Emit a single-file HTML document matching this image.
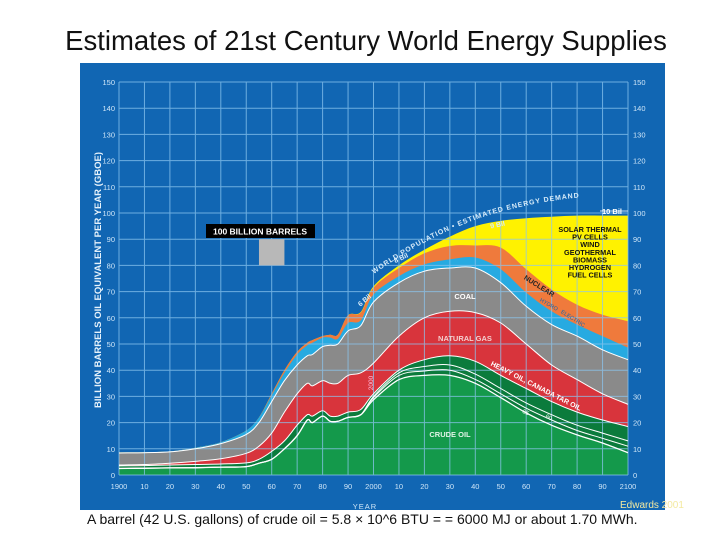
<!DOCTYPE html>
<html><head><meta charset="utf-8"><style>
html,body{margin:0;padding:0;background:#fff;}
body{width:720px;height:540px;position:relative;overflow:hidden;font-family:"Liberation Sans",sans-serif;}
#title{position:absolute;left:0;width:732px;top:25px;text-align:center;font-size:27.5px;color:#111;}
#caption{position:absolute;left:87px;top:511px;font-size:14px;color:#111;background:#fff;padding-right:6px;}
#credit{position:absolute;left:620px;top:500px;font-size:10px;color:#f3e9a0;}
</style></head><body>
<div id="title">Estimates of 21st Century World Energy Supplies</div>
<svg id="chart" width="720" height="540" style="position:absolute;left:0;top:0" xmlns="http://www.w3.org/2000/svg"></svg>
<div id="caption">A barrel (42 U.S. gallons) of crude oil = 5.8 × 10^6 BTU = = 6000 MJ or about 1.70 MWh.</div>
<div id="credit">Edwards 2001</div>
<script>
const years   = [1900,1910,1920,1930,1940,1950,1955,1960,1965,1970,1974,1976,1980,1983,1986,1990,1995,2000,2010,2020,2030,2040,2050,2060,2070,2080,2090,2100];
const crude   = [2.5,2.6,2.7,2.8,3,3.2,4.5,6,10,15,21,20,22.5,20.5,20.5,22,23,28.7,36.4,38,38,35,29.5,23.7,19,15.3,12.2,8.5];
const reserve1= [2.5,2.6,2.7,2.8,3,3.2,4.5,6,10,15,21,20,22.5,20.5,20.5,22,23,29.5,38,39.7,40,36.5,31,25.5,21,17,14,11];
const reserve2= [2.5,2.6,2.7,2.8,3,3.2,4.5,6,10,15,21,20,22.5,20.5,20.5,22,23,30,39,41.4,42,38.5,33,27.5,23,19,16,13];
const heavy   = [3.5,3.6,3.8,4,4.2,4.6,6,9,13,19,23,22.5,24.5,22.5,22.5,24,25,31,40,44,45.5,43.4,38,33,28,24,21,18.5];
const gas     = [3.8,4,4.5,5.2,6.2,8.3,11,16,24,31,35,34,36,35,35,38,39,42.7,53,60,62.5,62,58,50,42,36.4,31,27];
const coal    = [8.4,8.5,8.8,10,12,15.5,20,28,36,42,45.5,46,49,49.5,50,55,57,66,73.4,77.8,79,79,73.4,64.4,57.4,53,47.8,44];
const hydro   = [8.6,8.7,9,10.4,12.5,17,22,30.5,39,46,49.5,50.5,52.4,52.5,52,58,59,68.9,75.9,80.4,82.3,83,78.5,69.6,62.5,57.4,53,48.6];
const nuclear = [8.6,8.7,9,10.4,12.5,17,22,31,40,47,50.5,51.5,53,53.5,53.6,61,62,71.5,79,84.6,87.4,87.6,86.8,78.5,70.8,65,61.2,58.7];
const total   = [8.6,8.7,9,10.4,12.5,17,22,31,40,47,50.5,51.5,53,53.5,53.6,61,62.2,72,80,86,91,95,97,98,98.6,99,99,99];
const yTicks  = [0,10,20,30,40,50,60,70,80,90,100,110,120,130,140,150];
const xTicks  = [1900,1910,1920,1930,1940,1950,1960,1970,1980,1990,2000,2010,2020,2030,2040,2050,2060,2070,2080,2090,2100];
const xTickLabels = ["1900","10","20","30","40","50","60","70","80","90","2000","10","20","30","40","50","60","70","80","90","2100"];

const X0=119,X1=628,Y0=475,Y1=82;
const xs=y=>X0+(y-1900)/200*(X1-X0);
const ys=v=>Y0-v/150*(Y0-Y1);
const svg=document.getElementById('chart');
const NS='http://www.w3.org/2000/svg';
function mk(tag,attrs,parent){const e=document.createElementNS(NS,tag);for(const k in attrs)e.setAttribute(k,attrs[k]);(parent||svg).appendChild(e);return e;}
function curve(vals){
  const p=years.map((y,i)=>[xs(y),ys(vals[i])]);
  let d='M'+p[0][0]+','+p[0][1];
  for(let i=0;i<p.length-1;i++){
    const a=p[Math.max(0,i-1)],b=p[i],c=p[i+1],e=p[Math.min(p.length-1,i+2)];
    const c1=[b[0]+(c[0]-a[0])/6,b[1]+(c[1]-a[1])/6],c2=[c[0]-(e[0]-b[0])/6,c[1]-(e[1]-b[1])/6];
    d+=' C'+c1[0].toFixed(1)+','+c1[1].toFixed(1)+' '+c2[0].toFixed(1)+','+c2[1].toFixed(1)+' '+c[0].toFixed(1)+','+c[1].toFixed(1);
  }
  return d;
}
function area(vals){return curve(vals)+' L'+xs(2100)+','+ys(0)+' L'+xs(1900)+','+ys(0)+' Z';}

let bg=mk('rect',{x:80,y:63,width:585,height:447,fill:'#1166b3'});



const layers=[[total,'#fff200','solar-area'],[nuclear,'#ef7a3c','nuclear-area'],[hydro,'#27aae1','hydro-area'],[coal,'#8a8a8a','coal-area'],[gas,'#d8343c','natural-gas-area'],[heavy,'#0b7b3c','heavy-oil-area'],[crude,'#14994b','crude-oil-area']];
layers.forEach(L=>{
  const p=mk('path',{d:area(L[0]),fill:L[1]});
  
  
});

const g=mk('g',{stroke:'#8cc6f0','stroke-width':1,opacity:0.75});


yTicks.forEach(v=>mk('line',{x1:X0,x2:X1,y1:ys(v),y2:ys(v)},g));
xTicks.forEach(v=>mk('line',{x1:xs(v),x2:xs(v),y1:Y1,y2:Y0},g));

[[crude,1.3],[reserve1,1],[reserve2,1],[heavy,1],[gas,1],[coal,1]].forEach(L=>{
  const p=mk('path',{d:curve(L[0]),fill:'none',stroke:'#fff','stroke-width':L[1]});
  
  
});

yTicks.forEach(v=>{
  const t=mk('text',{x:115,y:ys(v)+3,'text-anchor':'end','font-size':7.5,fill:'#cfe6f8'});t.textContent=v;
  
  
  const r=mk('text',{x:633,y:ys(v)+3,'font-size':7.5,fill:'#cfe6f8'});r.textContent=v;
  
  
});
xTicks.forEach((v,i)=>{
  const t=mk('text',{x:xs(v),y:489,'text-anchor':'middle','font-size':7.5,fill:'#cfe6f8'});t.textContent=xTickLabels[i];
  
  
});
function txt(str,x,y,attrs,name){const t=mk('text',Object.assign({x:x,y:y},attrs));t.textContent=str;return t;}
txt('YEAR',365,509,{'text-anchor':'middle','font-size':7.5,fill:'#cfe6f8','letter-spacing':1},'x-axis-title');
txt('BILLION BARRELS OIL EQUIVALENT PER YEAR (GBOE)',101,280,{'text-anchor':'middle','font-size':9.5,'font-weight':'bold',fill:'#e6f2fb',transform:'rotate(-90 101 280)'},'y-axis-title');

const kb=mk('rect',{x:206,y:224,width:109,height:14,fill:'#000'});


txt('100 BILLION BARRELS',260,234.5,{'text-anchor':'middle','font-size':8.5,'font-weight':'bold',fill:'#fff'},'scale-key-label');
const ks=mk('rect',{x:xs(1955),y:ys(90),width:xs(1965)-xs(1955),height:ys(80)-ys(90),fill:'#b8b8b8'});



txt('COAL',465,299,{'text-anchor':'middle','font-size':7.5,'font-weight':'bold',fill:'#fff'},'coal-label');
txt('NATURAL GAS',465,341,{'text-anchor':'middle','font-size':7.5,'font-weight':'bold',fill:'#f3d0d0'},'natural-gas-label');
txt('CRUDE OIL',450,437,{'text-anchor':'middle','font-size':7.5,'font-weight':'bold',fill:'#e0f3e6'},'crude-oil-label');
txt('HEAVY OIL, CANADA TAR OIL',535,388,{'text-anchor':'middle','font-size':7,'font-weight':'bold',fill:'#fff',transform:'rotate(27 535 388)'},'heavy-oil-label');
txt('NUCLEAR',538,288,{'text-anchor':'middle','font-size':7,'font-weight':'bold',fill:'#222',transform:'rotate(32 538 288)'},'nuclear-label');
txt('HYDRO',548,306,{'text-anchor':'middle','font-size':5.5,fill:'#1166b3',transform:'rotate(30 548 306)'},'hydro-label');
txt('ELECTRIC',572,320,{'text-anchor':'middle','font-size':5.5,fill:'#1166b3',transform:'rotate(32 572 320)'},'electric-label');
txt('2000',373,383,{'text-anchor':'middle','font-size':6.5,fill:'#fbd',transform:'rotate(-90 373 383)'},'year-2000-marker');
txt('85',525,414,{'text-anchor':'middle','font-size':6,fill:'#fff',transform:'rotate(25 525 414)'},'scenario-85-label');
txt('60',548,419,{'text-anchor':'middle','font-size':6,fill:'#fff',transform:'rotate(25 548 419)'},'scenario-60-label');
['SOLAR THERMAL','PV CELLS','WIND','GEOTHERMAL','BIOMASS','HYDROGEN','FUEL CELLS'].forEach((s,i)=>{
  txt(s,590,232+i*7.6,{'text-anchor':'middle','font-size':7.3,'font-weight':'bold',fill:'#111'},'renewables-label');
});
const pp=mk('path',{id:'popPath',d:'M374,274 C405,252 440,232 480,218 C520,205 560,198 600,196',fill:'none'});
const tp=mk('text',{'font-size':7,'font-weight':'bold',fill:'#d8ecfa','letter-spacing':0.9});


const tpa=mk('textPath',{href:'#popPath'},tp);tpa.textContent='WORLD POPULATION • ESTIMATED ENERGY DEMAND';
txt('10 Bil',612,214,{'text-anchor':'middle','font-size':7.5,'font-weight':'bold',fill:'#fff'},'population-10bil');
const pl=mk('line',{x1:600,x2:628,y1:211,y2:211,stroke:'#fff','stroke-width':0.8});


txt('9 Bil',498,227,{'text-anchor':'middle','font-size':7,'font-weight':'bold',fill:'#d8ecfa',transform:'rotate(-12 498 227)'},'population-9bil');
txt('8 Bil',402,260,{'text-anchor':'middle','font-size':7,'font-weight':'bold',fill:'#d8ecfa',transform:'rotate(-25 402 260)'},'population-8bil');
txt('6 Bil',366,302,{'text-anchor':'middle','font-size':7,'font-weight':'bold',fill:'#d8ecfa',transform:'rotate(-40 366 302)'},'population-6bil');
</script>
</body></html>
